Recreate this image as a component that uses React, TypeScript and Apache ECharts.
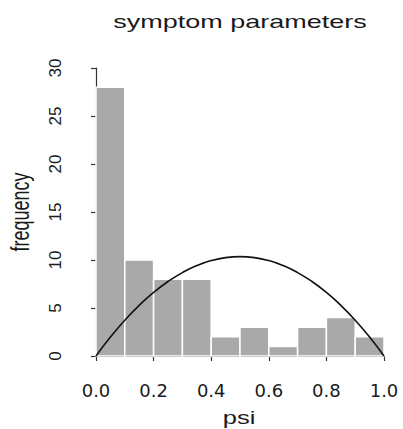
import React, { useEffect, useRef } from "react";
import * as echarts from "echarts";

const binStarts = [0.0, 0.1, 0.2, 0.3, 0.4, 0.5, 0.6, 0.7, 0.8, 0.9];
const binEnds = [0.1, 0.2, 0.3, 0.4, 0.5, 0.6, 0.7, 0.8, 0.9, 1.0];
const counts = [28, 10, 8, 8, 2, 3, 1, 3, 4, 2];

const curveX = [0, 0.05, 0.1, 0.15, 0.2, 0.25, 0.3, 0.35, 0.4, 0.45, 0.5, 0.55, 0.6, 0.65, 0.7, 0.75, 0.8, 0.85, 0.9, 0.95, 1.0];
const curveY = [0, 1.97, 3.73, 5.28, 6.62, 7.76, 8.69, 9.42, 9.94, 10.25, 10.35, 10.25, 9.94, 9.42, 8.69, 7.76, 6.62, 5.28, 3.73, 1.97, 0];

const xTicks = ["0.0", "0.2", "0.4", "0.6", "0.8", "1.0"];

const titleText = "symptom parameters";
const xName = "psi";
const yName = "frequency";

export default function App() {
  const ref = useRef<HTMLDivElement>(null);
  useEffect(() => {
    if (!ref.current) return;
    const chart = echarts.init(ref.current, null, { renderer: "svg" });
    const histData = binStarts.map((s, i) => [s, binEnds[i], counts[i]]);
    const curveData = curveX.map((x, i) => [x, curveY[i]]);
    const textColor = "#1a1a1a";
    chart.setOption({
      animation: false,
      backgroundColor: "#ffffff",
      grid: { left: 96, right: 19, top: 68, bottom: 73 },
      xAxis: {
        type: "value",
        min: 0,
        max: 1,
        interval: 0.2,
        offset: 11,
        splitLine: { show: false },
        axisLine: { show: true, lineStyle: { color: "#333", width: 1.2 } },
        axisTick: { show: true, length: 5, lineStyle: { color: "#333", width: 1.2 } },
        axisLabel: {
          margin: 14,
          color: textColor,
          fontFamily: "DejaVu Sans",
          fontSize: 18,
          formatter: (v: number) => xTicks[Math.round(v / 0.2)] ?? "",
        },
      },
      yAxis: {
        type: "value",
        min: 0,
        max: 30,
        interval: 5,
        offset: 13,
        splitLine: { show: false },
        axisLine: { show: true, lineStyle: { color: "#333", width: 1.2 } },
        axisTick: { show: true, length: 5, lineStyle: { color: "#333", width: 1.2 } },
        axisLabel: {
          margin: 19,
          rotate: 90,
          color: textColor,
          fontFamily: "Liberation Sans",
          fontSize: 17,
        },
      },
      graphic: [
        {
          type: "text",
          x: 240,
          y: 21,
          scaleX: 1.42,
          style: {
            text: titleText,
            font: "19px 'Liberation Sans'",
            fill: textColor,
            align: "center",
            verticalAlign: "middle",
          },
        },
        {
          type: "text",
          x: 239,
          y: 418,
          scaleX: 1.42,
          style: {
            text: xName,
            font: "18px 'Liberation Sans'",
            fill: textColor,
            align: "center",
            verticalAlign: "middle",
          },
        },
        {
          type: "text",
          x: 20,
          y: 212,
          rotation: Math.PI / 2,
          scaleY: 1.42,
          style: {
            text: yName,
            font: "18px 'Liberation Sans'",
            fill: textColor,
            align: "center",
            verticalAlign: "middle",
          },
        },
      ],
      series: [
        {
          type: "custom",
          data: histData,
          encode: { x: [0, 1], y: 2 },
          renderItem: (params: any, api: any) => {
            const tl = api.coord([api.value(0), api.value(2)]);
            const br = api.coord([api.value(1), 0]);
            return {
              type: "rect",
              shape: { x: tl[0], y: tl[1], width: br[0] - tl[0], height: br[1] - tl[1] },
              style: { fill: "#a9a9a9", stroke: "#ffffff", lineWidth: 1.5 },
            };
          },
          z: 2,
        },
        {
          type: "line",
          data: curveData,
          smooth: true,
          showSymbol: false,
          lineStyle: { color: "#111", width: 1.6 },
          z: 5,
        },
      ],
    });
    return () => chart.dispose();
  }, []);
  return <div ref={ref} style={{ width: 403, height: 429, position: "absolute", left: 0, top: 0 }} />;
}
